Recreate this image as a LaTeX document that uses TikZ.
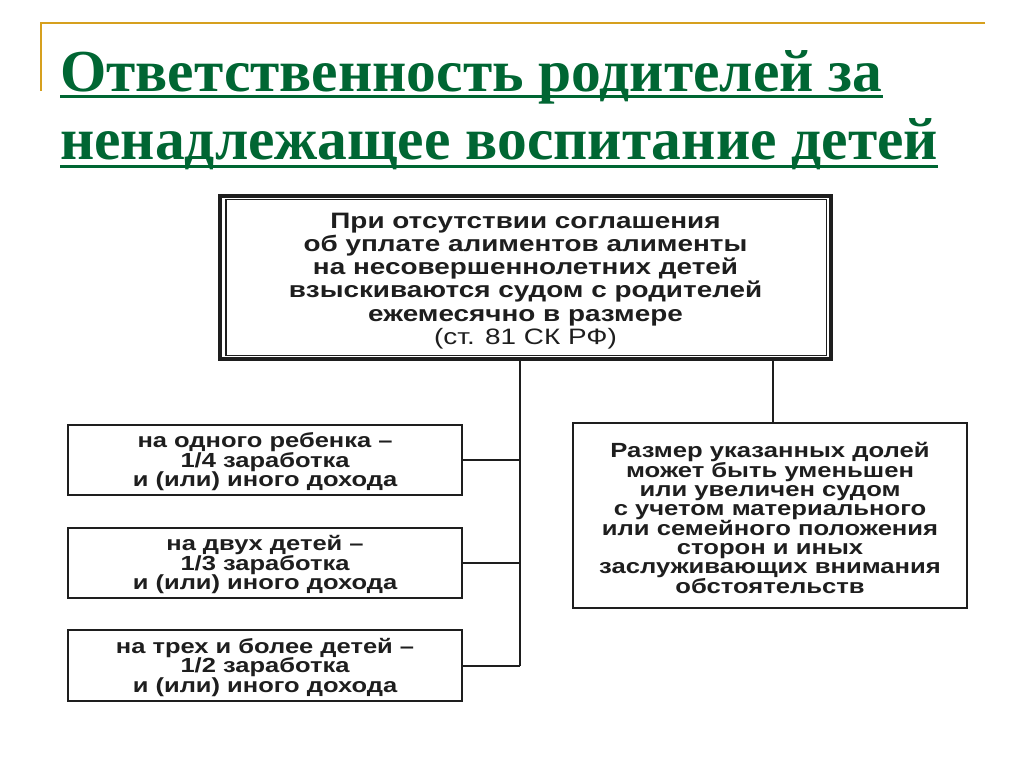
\documentclass[tikz,border=0pt]{standalone}
\usepackage{fontspec}
\setmainfont{Liberation Serif}
\newfontfamily\boxfont{Liberation Sans}[FakeStretch=1.25]
\definecolor{titlegreen}{RGB}{0,102,51}
\definecolor{gold}{RGB}{214,160,30}
\definecolor{ink}{RGB}{30,30,30}
\begin{document}
\begin{tikzpicture}[x=1pt,y=-1pt,
  ttl/.style={anchor=base west,inner sep=0pt,font=\fontsize{59.5}{67}\selectfont\bfseries,text=titlegreen},
  uline/.style={titlegreen,line width=3pt},
  frame/.style={draw=ink,inner sep=0pt},
  boxtext/.style={inner sep=0pt,align=center,text=ink},
  leftbox/.style={frame,line width=2pt,minimum width=394pt},
  lefttext/.style={boxtext,font=\boxfont\bfseries\fontsize{20.4}{19.5}\selectfont},
  rightbox/.style={frame,line width=2pt,minimum width=394pt,minimum height=185pt},
  righttext/.style={boxtext,font=\boxfont\bfseries\fontsize{20.5}{18.7}\selectfont},
  topbox/.style={frame,line width=4.5pt,minimum width=611pt,minimum height=163pt},
  toptext/.style={boxtext,font=\boxfont\bfseries\fontsize{22.3}{23.2}\selectfont},
  conn/.style={draw=ink,line width=2pt}
]
\useasboundingbox[fill=white] (0,0) rectangle (1024,767);
% gold frame corner
\coordinate (g1) at (985,23);
\coordinate (g0) at (41,23);
\coordinate (g2) at (41,91);
\draw[gold,line width=2.8pt] (g1) -- (g0) -- (g2);
% title
\node[ttl] (t1) at (60,92) {Ответственность родителей за};
\node[ttl] (t2) at (60,160) {ненадлежащее воспитание детей};
\draw[uline] ([yshift=-5pt]t1.base west) -- ([yshift=-5pt]t1.base east);
\draw[uline] ([yshift=-7pt]t2.base west) -- ([yshift=-7pt]t2.base east);
% top box
\node[topbox] (top) at (525.5,277.5) {};
\draw[ink,line width=1.5pt] ([xshift=8pt,yshift=-6pt]top.north west) rectangle ([xshift=-7pt,yshift=6pt]top.south east);
\node[toptext] (topt) at ([yshift=-3.5pt]top.center) {При отсутствии соглашения\\об уплате алиментов алименты\\на несовершеннолетних детей\\взыскиваются судом с родителей\\ежемесячно в размере\\{\mdseries (ст. 81 СК РФ)}};
% left boxes
\node[leftbox,minimum height=70pt] (b1) at (265,460) {};
\node[leftbox,minimum height=70pt] (b2) at (265,563) {};
\node[leftbox,minimum height=71pt] (b3) at (265,665.5) {};
\node[lefttext] (b1t) at ([yshift=-2pt]b1.center) {на одного ребенка –\\1/4 заработка\\и (или) иного дохода};
\node[lefttext] (b2t) at ([yshift=-2pt]b2.center) {на двух детей –\\1/3 заработка\\и (или) иного дохода};
\node[lefttext] (b3t) at ([yshift=-2pt]b3.center) {на трех и более детей –\\1/2 заработка\\и (или) иного дохода};
% right box
\node[rightbox] (rb) at (770,515.5) {};
\node[righttext] (rbt) at ([yshift=-2.5pt]rb.center) {Размер указанных долей\\может быть уменьшен\\или увеличен судом\\с учетом материального\\или семейного положения\\сторон и иных\\заслуживающих внимания\\обстоятельств};
% connectors
\coordinate (j) at (520,665.5);
\draw[conn] (top.south -| j) -- (j);
\draw[conn] (b1.east) -- (b1.east -| j);
\draw[conn] (b2.east) -- (b2.east -| j);
\draw[conn] (b3.east) -- (j);
\draw[conn] ([xshift=3pt]top.south -| rb.north) -- ([xshift=3pt]rb.north);
\end{tikzpicture}
\end{document}
